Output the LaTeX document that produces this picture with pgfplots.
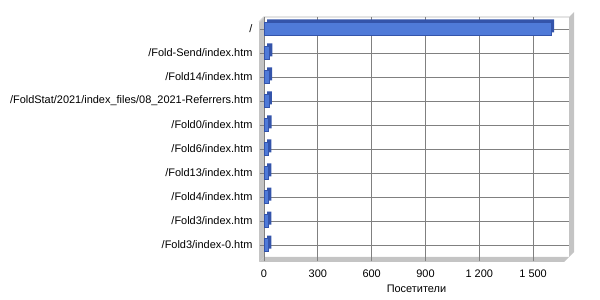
\documentclass[border=0pt]{standalone}
\usepackage{pgfplots}
\pgfplotsset{compat=1.18}
\usepackage{fontspec}
\setmainfont{Liberation Sans}
\definecolor{barfront}{RGB}{79,122,216}
\definecolor{barside}{RGB}{52,84,170}
\definecolor{wallgray}{RGB}{196,196,196}
\definecolor{gridgray}{RGB}{128,128,128}
\begin{document}
\begin{tikzpicture}
\useasboundingbox (0,0) rectangle (600bp,300bp);
\fill[wallgray] (259bp,38bp) -- (264bp,43bp) -- (264bp,283bp) -- (259bp,278bp) -- cycle;
\fill[wallgray] (259bp,38bp) -- (264bp,43bp) -- (569bp,43bp) -- (564bp,38bp) -- cycle;
\fill[wallgray] (569bp,43bp) -- (574bp,48bp) -- (574bp,288bp) -- (569bp,283bp) -- cycle;
\draw[wallgray!70!white, line width=1.2bp] (259bp,278bp) -- (264bp,283bp) -- (569bp,283bp);
\begin{axis}[
  at={(264bp,43bp)}, anchor=south west,
  scale only axis, width=305bp, height=240bp,
  xmin=0, xmax=1700, ymin=-0.5, ymax=9.5, y dir=reverse,
  xtick={0,300,600,900,1200,1500},
  xticklabels={0,300,600,900,1 200,1 500},
  ytick={0,...,9},
  yticklabels={/,/Fold-Send/index.htm,/Fold14/index.htm,/FoldStat/2021/index\_files/08\_2021-Referrers.htm,/Fold0/index.htm,/Fold6/index.htm,/Fold13/index.htm,/Fold4/index.htm,/Fold3/index.htm,/Fold3/index-0.htm},
  ticklabel style={font=\fontsize{11}{13}\selectfont},
  /pgf/number format/assume math mode=true,
  xlabel={Посетители}, xlabel style={font=\fontsize{11}{13}\selectfont, yshift=-1bp},
  grid=major, major grid style={gridgray, line width=0.8bp},
  axis line style={draw=none},
  tick style={gridgray, line width=0.8bp},
  xtick pos=bottom, ytick pos=left,
  tick align=outside, major tick length=4bp,
  xticklabel shift=5bp, yticklabel shift=4bp,
  xbar, bar width=13bp,
]
\addplot[draw=none, fill=barside, xshift=3bp, yshift=3bp, bar shift=0pt] coordinates {
(1600,0) (30,1) (28,2) (27,3) (26,4) (25,5) (25,6) (24,7) (24,8) (24,9)};
\addplot[draw=barside, fill=barfront, bar shift=0pt] coordinates {
(1600,0) (30,1) (28,2) (27,3) (26,4) (25,5) (25,6) (24,7) (24,8) (24,9)};
\end{axis}
\end{tikzpicture}
\end{document}
